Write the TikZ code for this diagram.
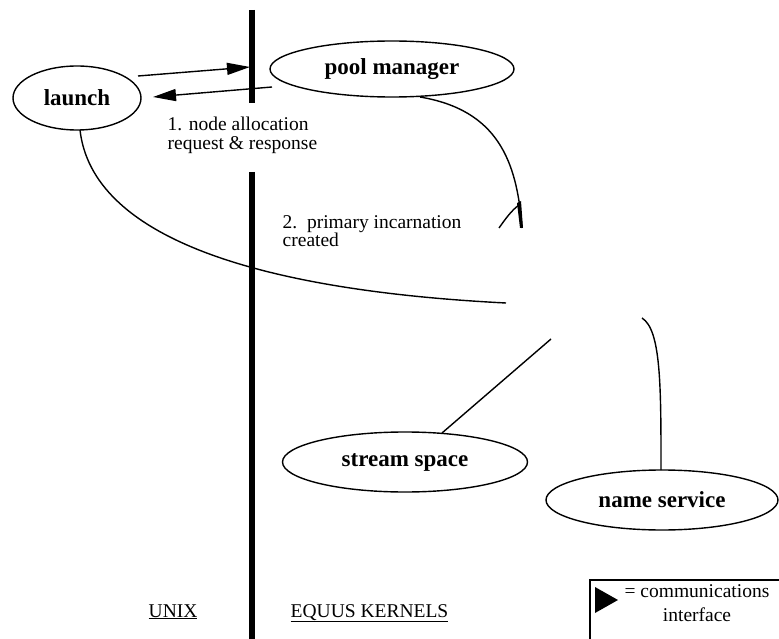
\documentclass[tikz,border=0pt]{standalone}
\usepackage{fontspec}
\setmainfont{Liberation Serif}
\usetikzlibrary{shapes.geometric,arrows.meta}
\begin{document}
\begin{tikzpicture}[x=1pt,y=-1pt,
  line width=1.4pt,
  proc/.style={draw, ellipse, inner sep=0pt, line width=1.4pt,
    font=\fontsize{23}{25}\selectfont\bfseries},
  note/.style={inner sep=0pt, anchor=north west, align=left,
    font=\fontsize{19.5}{18.5}\selectfont},
  wall/.style={line width=5.5pt},
  link/.style={line width=1.4pt},
  msg/.style={line width=1.4pt, -{Triangle[length=23pt,width=12pt]}}]
\useasboundingbox (0,0) rectangle (779,639);
\clip (0,0) rectangle (779,639);

% boundary between the UNIX side and the kernel side
\coordinate (w1a) at (252,10);
\coordinate (w1b) at (252,103);
\coordinate (w2a) at (252,172);
\coordinate (w2b) at (252,645);
\draw[wall] (w1a) -- (w1b);
\draw[wall] (w2a) -- (w2b);

% processes
\node[proc, minimum width=128pt, minimum height=64pt] (launch) at (77,98) {launch};
\node[proc, minimum width=244pt, minimum height=56pt] (pool) at (392,69) {pool manager};
\node[proc, minimum width=245pt, minimum height=60pt] (stream) at (405,462) {stream space};
\node[proc, minimum width=232pt, minimum height=60pt] (name) at (662,500) {name service};

% allocation request and response
\coordinate (reqs) at (138,76);
\coordinate (reqe) at (250,67);
\coordinate (rsps) at (272,87);
\coordinate (rspe) at (153,97);
\draw[msg] (reqs) -- (reqe);
\draw[msg] (rsps) -- (rspe);
\node[note] (n1) at (167,116.5) {1. node allocation\\request \& response};

% creation of the primary incarnation
\coordinate (ps) at (420,97);
\coordinate (pe) at (522,228);
\draw[link] (ps) .. controls (497,110) and (517,160) .. (pe);
\coordinate (bs) at (499,228);
\coordinate (be) at (519,205);
\draw[link] (bs) .. controls (506,218) and (512,210) .. (be);
\fill (517,203) -- (521,201) -- (523,228) -- (520,228) -- cycle;
\node[note] (n2) at (282,214.5) {2.\ \ primary incarnation\\created};

% connections from the remaining processes
\coordinate (le) at (506,303);
\draw[link] (80,130) .. controls (92,235) and (250,290) .. (le);
\coordinate (se) at (551,339);
\draw[link] (442,433) -- (se);
\coordinate (ne) at (642,318);
\draw[link] (661,470) .. controls (661,385) and (661,330) .. (ne);

% side labels
\node[inner sep=0pt, anchor=base west, font=\fontsize{19.5}{22}\selectfont] (unix) at (148,617) {\underline{UNIX}};
\node[inner sep=0pt, anchor=base west, font=\fontsize{19.5}{22}\selectfont] (equus) at (290,617) {\underline{EQUUS KERNELS}};

% legend
\draw[line width=1.2pt] (781,580) -- (590,580) -- (590,645);
\fill (595,587) -- (618,600) -- (595,613) -- cycle;
\node[inner sep=0pt, anchor=north, align=center, font=\fontsize{19.5}{24.5}\selectfont] (leg) at (697,583.5) {= communications\\interface};
\end{tikzpicture}
\end{document}
